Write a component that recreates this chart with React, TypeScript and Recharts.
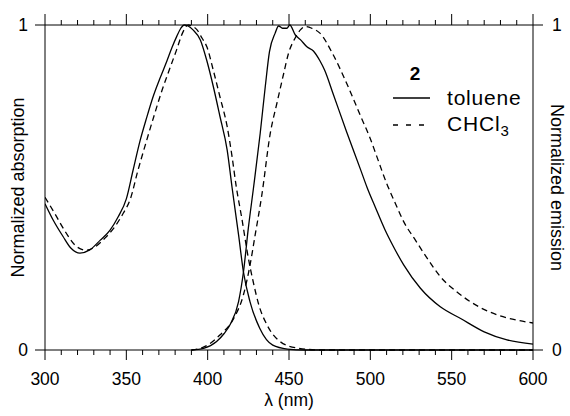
import React from 'react'
import { LineChart, Line, XAxis, YAxis } from 'recharts'

// wavelengths (nm) and normalized intensities
const absTolueneWl = [300, 305, 311, 316, 321.5, 327.5, 334, 340, 345, 350, 354, 358.5, 362.5, 366.5, 371, 375, 378, 381, 383.5, 385.5, 388, 391, 395.5, 399.5, 403.5, 407.5, 412, 415, 419, 422, 426, 432, 440, 449, 460, 600]
const absTolueneVal = [0.45, 0.4, 0.35, 0.313, 0.298, 0.308, 0.338, 0.369, 0.41, 0.465, 0.55, 0.645, 0.715, 0.78, 0.84, 0.89, 0.93, 0.965, 0.99, 1.0, 0.997, 0.985, 0.954, 0.89, 0.81, 0.72, 0.615, 0.5, 0.354, 0.24, 0.149, 0.067, 0.015, 0.003, 0, 0]

const absChcl3Wl = [300, 306, 313, 319.5, 325.5, 331, 337, 343, 348, 352.5, 357, 362.5, 367, 372, 377, 381, 384.5, 388, 391, 393.5, 396.5, 399.5, 403.5, 407.5, 412, 415, 417.5, 421, 425, 428, 431.5, 436.5, 444.5, 455, 470, 600]
const absChcl3Val = [0.47, 0.42, 0.36, 0.318, 0.307, 0.318, 0.345, 0.38, 0.42, 0.465, 0.55, 0.645, 0.72, 0.8, 0.87, 0.925, 0.975, 1.0, 0.995, 0.985, 0.96, 0.933, 0.86, 0.78, 0.687, 0.595, 0.505, 0.405, 0.283, 0.21, 0.138, 0.077, 0.026, 0.006, 0, 0]

const emTolueneWl = [390, 397.5, 405.5, 410, 414, 419, 422, 425, 428.2, 432.3, 435.4, 438, 441.5, 443.6, 446, 448.7, 450.5, 453.8, 457, 461, 465, 469, 472, 477, 485.5, 494, 498, 503, 509, 514, 520.5, 530.8, 543, 555.5, 570, 584, 600]
const emTolueneVal = [0, 0.005, 0.026, 0.05, 0.08, 0.149, 0.24, 0.375, 0.5, 0.667, 0.81, 0.918, 0.975, 0.997, 0.99, 0.99, 1.0, 0.97, 0.955, 0.933, 0.92, 0.89, 0.86, 0.79, 0.67, 0.555, 0.5, 0.44, 0.37, 0.32, 0.262, 0.19, 0.133, 0.097, 0.056, 0.031, 0.018]

const emChcl3Wl = [390, 395.5, 401.5, 407.5, 416, 422, 426, 429.2, 433.3, 438.5, 442.6, 446.7, 449.7, 453.8, 457, 460, 464, 469, 477, 485.5, 494, 500, 504, 510, 515.4, 520.5, 527.7, 535, 543, 554.4, 566.7, 578, 590, 600]
const emChcl3Val = [0, 0.005, 0.02, 0.046, 0.097, 0.17, 0.26, 0.354, 0.477, 0.667, 0.76, 0.85, 0.913, 0.96, 0.985, 0.995, 0.99, 0.975, 0.91, 0.82, 0.72, 0.65, 0.595, 0.513, 0.451, 0.395, 0.338, 0.282, 0.226, 0.174, 0.133, 0.108, 0.092, 0.083]

const xTicks = [300, 310, 320, 330, 340, 350, 360, 370, 380, 390, 400, 410, 420, 430, 440, 450, 460, 470, 480, 490, 500, 510, 520, 530, 540, 550, 560, 570, 580, 590, 600]
const xLabels = [300, 350, 400, 450, 500, 550, 600]
const yTicks = [0, 1]
const legendItems = [
  { name: 'toluene', dash: undefined, sub: '' },
  { name: 'CHCl', dash: '5 8', sub: '3' },
]

const FONT = '"Liberation Sans", Arial, sans-serif'

const zip = (wl: number[], val: number[]) => wl.map((x, i) => ({ x, y: val[i] }))

const absToluene = zip(absTolueneWl, absTolueneVal)
const absChcl3 = zip(absChcl3Wl, absChcl3Val)
const emToluene = zip(emTolueneWl, emTolueneVal)
const emChcl3 = zip(emChcl3Wl, emChcl3Val)

function BottomTick(props: any) {
  const { x, y, payload } = props
  const major = xLabels.includes(payload.value)
  return (
    <g>
      <line x1={x} x2={x} y1={y} y2={y + (major ? 10 : 5)} stroke="#000" />
      {major && (
        <text x={x} y={y + 35} textAnchor="middle" fontSize={17.5} fontFamily={FONT} fill="#000">
          {payload.value}
        </text>
      )}
    </g>
  )
}

function TopTick(props: any) {
  const { x, y, payload } = props
  const major = xLabels.includes(payload.value)
  return <line x1={x} x2={x} y1={y} y2={y - (major ? 11 : 5)} stroke="#000" />
}

function LegendBox() {
  return (
    <svg width={160} height={100} style={{ position: 'absolute', left: 390, top: 53, fontFamily: FONT, overflow: 'visible' }}>
      <text x={25} y={27} fontSize={19} fontWeight="bold" textAnchor="middle">2</text>
      {legendItems.map((item, i) => (
        <g key={item.name}>
          <line x1={3} x2={40} y1={45 + i * 27} y2={45 + i * 27} stroke="#000" strokeWidth={1.3} strokeDasharray={item.dash} />
          <text x={57} y={52 + i * 26} fontSize={21} letterSpacing={0.8}>
            {item.name}
            {item.sub && <tspan dy={5} fontSize={15}>{item.sub}</tspan>}
          </text>
        </g>
      ))}
    </svg>
  )
}

export default function App() {
  return (
    <div style={{ position: 'absolute', left: 0, top: 0, width: 570, height: 416, background: '#fff' }}>
      <LineChart width={570} height={416} margin={{ top: 0, right: 0, bottom: 0, left: 0 }} style={{ fontFamily: FONT }}>
        <XAxis
          dataKey="x"
          type="number"
          domain={[300, 600]}
          allowDataOverflow
          ticks={xTicks}
          interval={0}
          height={66}
          tickSize={0}
          tickMargin={0}
          tickLine={false}
          tick={<BottomTick />}
          axisLine={{ stroke: '#000' }}
          label={{ value: 'λ (nm)', position: 'insideBottom', offset: 10, fill: '#000', fontSize: 17.5 }}
        />
        <XAxis
          xAxisId="top"
          orientation="top"
          dataKey="x"
          type="number"
          domain={[300, 600]}
          allowDataOverflow
          ticks={xTicks}
          interval={0}
          height={25}
          tickSize={0}
          tickMargin={0}
          tickLine={false}
          tick={<TopTick />}
          axisLine={{ stroke: '#000' }}
        />
        <YAxis
          yAxisId="left"
          type="number"
          domain={[0, 1]}
          ticks={yTicks}
          width={45}
          tickSize={10}
          tickMargin={7}
          tickLine={{ stroke: '#000' }}
          axisLine={{ stroke: '#000' }}
          tick={{ fill: '#000', fontSize: 17.5, fontFamily: FONT }}
          label={{ value: 'Normalized absorption', angle: -90, position: 'insideLeft', offset: 18, fill: '#000', fontSize: 18, style: { textAnchor: 'middle' } }}
        />
        <YAxis
          yAxisId="right"
          orientation="right"
          type="number"
          domain={[0, 1]}
          ticks={yTicks}
          width={37}
          tickSize={10}
          tickMargin={9}
          tickLine={{ stroke: '#000' }}
          axisLine={{ stroke: '#000' }}
          tick={{ fill: '#000', fontSize: 17.5, fontFamily: FONT }}
          label={{ value: 'Normalized emission', angle: 90, position: 'insideRight', offset: 13, fill: '#000', fontSize: 18, style: { textAnchor: 'middle' } }}
        />
        <Line yAxisId="left" data={absToluene} dataKey="y" name="toluene" type="monotone" stroke="#000" strokeWidth={1.3} dot={false} isAnimationActive={false} />
        <Line yAxisId="left" data={absChcl3} dataKey="y" name="CHCl3" type="monotone" stroke="#000" strokeWidth={1.3} strokeDasharray="6 4" dot={false} isAnimationActive={false} />
        <Line yAxisId="right" data={emToluene} dataKey="y" name="toluene emission" type="monotone" stroke="#000" strokeWidth={1.3} dot={false} isAnimationActive={false} />
        <Line yAxisId="right" data={emChcl3} dataKey="y" name="CHCl3 emission" type="monotone" stroke="#000" strokeWidth={1.3} strokeDasharray="6 4" dot={false} isAnimationActive={false} />
      </LineChart>
      <LegendBox />
    </div>
  )
}
